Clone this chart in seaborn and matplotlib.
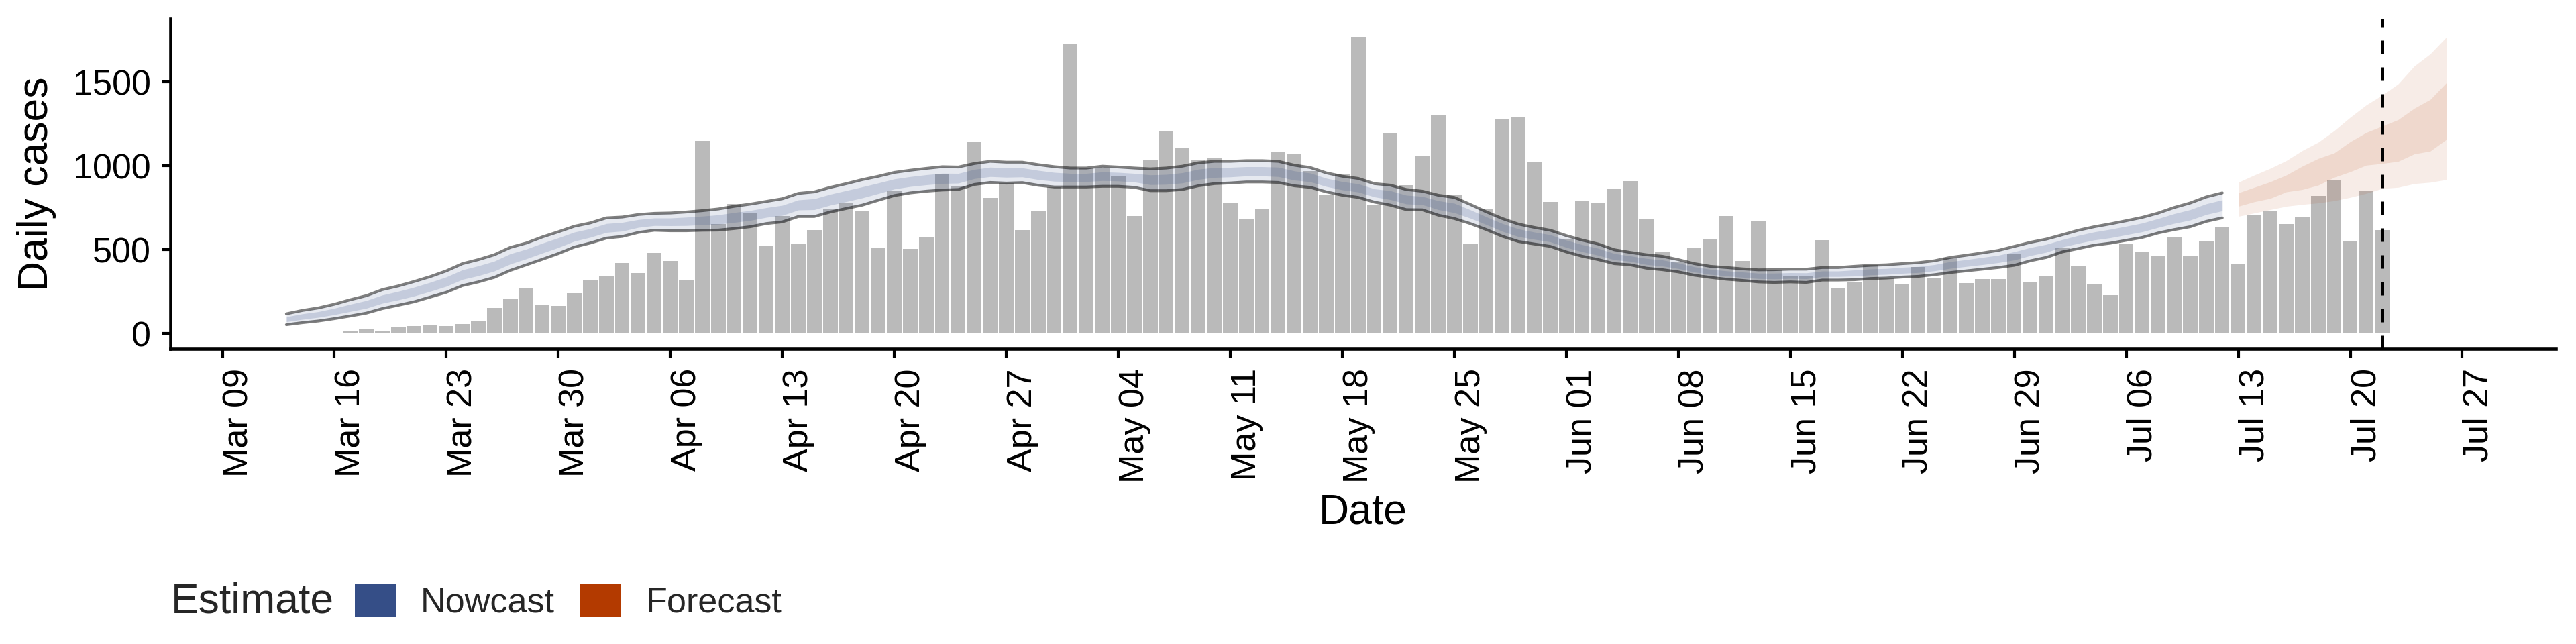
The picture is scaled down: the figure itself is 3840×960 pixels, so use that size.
import numpy as np
import pandas as pd
import matplotlib
matplotlib.use("Agg")
import matplotlib.pyplot as plt
import matplotlib.dates as mdates
from matplotlib.patches import Patch
import seaborn as sns

# ---------------- data ----------------
case_dates = pd.date_range("2020-03-13", "2020-07-22", freq="D")
cases = [
    4, 7, 3, 3, 15, 27, 19, 40, 44, 48, 44, 56, 72, 155, 207, 275, 175, 167, 243,
    318, 342, 422, 362, 480, 432, 321, 1149, 653, 773, 719, 524, 703, 532, 619,
    747, 783, 731, 508, 850, 504, 576, 955, 878, 1141, 810, 899, 619, 735, 875,
    1730, 986, 990, 938, 703, 1037, 1204, 1105, 1037, 1045, 783, 683, 747, 1085,
    1073, 970, 830, 954, 1771, 769, 1193, 886, 1063, 1300, 826, 532, 747, 1280,
    1288, 1021, 787,
    560, 791, 779, 866, 911, 687, 488, 424, 512, 564, 703, 434, 668, 383, 340,
    346, 556, 269, 305, 408, 335, 293, 398, 330, 455, 301, 325, 325, 472, 309,
    345, 508, 400, 297, 229, 536, 484, 464, 576, 460, 552, 639, 413, 707, 735,
    655, 699, 822, 918, 548, 850, 619,
]

nowcast_dates = pd.date_range("2020-03-13", "2020-07-12", freq="D")
nowcast_upper90 = [
    119, 139, 154, 176, 203, 227, 263, 285, 312, 341,
    375, 418, 442, 471, 515, 541, 577, 608, 641, 661,
    691, 696, 711, 718, 720, 726, 734, 744, 760, 773,
    789, 805, 837, 846, 873, 895, 919, 939, 962, 975,
    986, 996, 994, 1015, 1028, 1023, 1023, 1008, 996, 988,
    988, 999, 994, 988, 983, 988, 999, 1019, 1028, 1028,
    1032, 1032, 1028, 1005, 991, 959, 939, 926, 895, 886,
    860, 850, 826, 813, 771, 727, 687, 654, 634, 617,
    585, 558, 535, 501, 485, 471, 462, 442, 418, 402,
    395, 387, 381, 382, 385, 385, 395, 395, 402, 408,
    411, 418, 424, 435, 455, 468, 482, 497, 521, 545,
    564, 590, 617, 638, 655, 674, 694, 720, 753, 780,
    816, 840,
]
nowcast_lower90 = [
    54, 66, 76, 90, 106, 123, 150, 170, 191, 219,
    247, 287, 309, 336, 378, 411, 444, 478, 517, 541,
    570, 580, 604, 617, 614, 614, 617, 618, 627, 638,
    657, 667, 699, 699, 726, 747, 767, 796, 824, 840,
    850, 857, 860, 890, 902, 898, 901, 885, 875, 875,
    875, 879, 879, 873, 853, 853, 860, 882, 895, 899,
    905, 905, 902, 882, 873, 846, 826, 813, 785, 767,
    740, 739, 707, 687, 657, 621, 581, 550, 535, 521,
    488, 462, 442, 418, 411, 391, 382, 369, 349, 336,
    325, 318, 309, 306, 309, 306, 320, 320, 322, 329,
    332, 338, 342, 352, 365, 375, 385, 395, 408, 435,
    455, 488, 508, 528, 540, 557, 574, 601, 621, 638,
    670, 691,
]
nowcast_upper50 = [
    101, 119, 132, 152, 176, 198, 231, 253, 278, 307,
    339, 381, 405, 433, 477, 505, 540, 572, 606, 627,
    657, 664, 681, 690, 690, 695, 701, 709, 723, 735,
    752, 766, 798, 805, 832, 854, 876, 899, 923, 937,
    948, 957, 956, 980, 993, 988, 989, 974, 962, 956,
    956, 965, 962, 956, 947, 950, 960, 981, 991, 992,
    996, 996, 993, 971, 958, 927, 907, 894, 864, 853,
    826, 819, 793, 778, 739, 697, 657, 625, 606, 590,
    558, 531, 509, 478, 464, 449, 440, 422, 399, 384,
    375, 368, 361, 361, 364, 363, 374, 374, 380, 386,
    389, 396, 401, 412, 430, 442, 455, 468, 489, 514,
    533, 561, 586, 607, 623, 641, 660, 687, 716, 740,
    775, 798,
]
nowcast_lower50 = [
    72, 86, 98, 114, 133, 152, 182, 202, 225, 253,
    283, 324, 346, 374, 416, 447, 481, 514, 552, 575,
    604, 612, 634, 645, 644, 645, 650, 653, 664, 676,
    694, 706, 738, 740, 767, 788, 810, 836, 863, 878,
    888, 896, 898, 925, 937, 933, 935, 919, 909, 907,
    907, 913, 911, 905, 889, 891, 899, 920, 932, 935,
    941, 941, 937, 916, 906, 878, 858, 845, 816, 800,
    774, 770, 740, 722, 689, 651, 611, 579, 563, 548,
    515, 489, 468, 441, 432, 413, 404, 389, 368, 354,
    345, 337, 329, 327, 330, 328, 341, 341, 344, 351,
    354, 360, 365, 375, 390, 401, 412, 424, 440, 466,
    486, 517, 539, 559, 572, 590, 608, 634, 658, 678,
    711, 733,
]

forecast_dates = pd.date_range("2020-07-13", "2020-07-26", freq="D")
forecast_upper90 = [903, 946, 986, 1032, 1092, 1142, 1211, 1291, 1364, 1423, 1490, 1596, 1669, 1768]
forecast_upper50 = [840, 873, 906, 946, 999, 1045, 1078, 1145, 1200, 1238, 1277, 1344, 1397, 1496]
forecast_lower50 = [760, 787, 807, 846, 860, 886, 933, 966, 1005, 1015, 1028, 1072, 1089, 1158]
forecast_lower90 = [700, 720, 740, 760, 771, 780, 793, 813, 837, 866, 873, 895, 903, 919]

estimate_date = pd.Timestamp("2020-07-22")
tick_dates = pd.date_range("2020-03-09", "2020-07-27", freq="7D")
y_ticks = [0, 500, 1000, 1500]
legend_title = "Estimate"
legend_labels = ["Nowcast", "Forecast"]
x_title = "Date"
y_title = "Daily cases"

NOW_COL = "#354E87"
FORE_COL = "#B33A00"
BAR_COL = "#BABABA"

# ---------------- style ----------------
sns.set_theme(style="ticks")
plt.rcParams["font.family"] = ["Liberation Sans", "DejaVu Sans"]

W, H = 3840, 960
fig = plt.figure(figsize=(12.8, 3.2), dpi=300)
L, R, T, B = 254, 3810, 28, 520
ax = fig.add_axes([L / W, 1 - B / H, (R - L) / W, (B - T) / H])

# bars
df_cases = pd.DataFrame({"date": case_dates, "cases": cases})
sns.histplot(data=df_cases, x="date", weights="cases", discrete=True, shrink=0.9,
             color=BAR_COL, alpha=1, edgecolor="none", linewidth=0, ax=ax, zorder=1)

# nowcast ribbons
ax.fill_between(nowcast_dates, nowcast_lower90, nowcast_upper90, color=NOW_COL,
                alpha=0.12, lw=0, zorder=2)
ax.fill_between(nowcast_dates, nowcast_lower50, nowcast_upper50, color=NOW_COL,
                alpha=0.19, lw=0, zorder=2)
sns.lineplot(x=nowcast_dates, y=nowcast_upper90, color="black", alpha=0.5, lw=1.0,
             ax=ax, zorder=3)
sns.lineplot(x=nowcast_dates, y=nowcast_lower90, color="black", alpha=0.5, lw=1.0,
             ax=ax, zorder=3)

# forecast ribbons
ax.fill_between(forecast_dates, forecast_lower90, forecast_upper90, color=FORE_COL,
                alpha=0.095, lw=0, zorder=2)
ax.fill_between(forecast_dates, forecast_lower50, forecast_upper50, color=FORE_COL,
                alpha=0.11, lw=0, zorder=2)

# estimate date
ax.axvline(estimate_date, color="black", lw=1.2, linestyle=(0, (4, 4)), zorder=4)

# axes
x0 = pd.Timestamp("2020-03-09")
ax.set_xlim(x0 + pd.Timedelta(days=-3.25), x0 + pd.Timedelta(days=145.85))
ax.set_ylim(-90, 1878)
ax.set_xticks(tick_dates)
ax.xaxis.set_major_formatter(mdates.DateFormatter("%b %d"))
ax.set_yticks(y_ticks)
ax.tick_params(axis="both", which="major", length=3, width=1.0, color="black",
               labelsize=12.5, labelcolor="black", pad=4)
ax.tick_params(axis="x", labelrotation=90)
for lab in ax.get_xticklabels():
    lab.set_horizontalalignment("left")
for s in ["top", "right"]:
    ax.spines[s].set_visible(False)
for s in ["left", "bottom"]:
    ax.spines[s].set_color("black")
    ax.spines[s].set_linewidth(1.1)
ax.grid(False)

ax.set_xlabel(x_title, fontsize=15, color="black")
ax.set_ylabel(y_title, fontsize=15, color="black")
ax.xaxis.set_label_coords(0.5, (B - 764) / (B - T))
ax.xaxis.label.set_va("center")
ax.yaxis.set_label_coords((55 - L) / (R - L), 0.5)
ax.yaxis.label.set_va("center")

# legend
fig.text(255 / W, 1 - 897 / H, legend_title, fontsize=15, ha="left", va="center")
handles = [Patch(facecolor=NOW_COL, edgecolor="none", label=legend_labels[0]),
           Patch(facecolor=FORE_COL, edgecolor="none", label=legend_labels[1])]
fig.legend(handles=handles, loc="center left", bbox_to_anchor=(529 / W, 1 - 897 / H),
           ncol=2, frameon=False, fontsize=12.5, handlelength=1.17, handleheight=1.1,
           handletextpad=0.7, columnspacing=0.75, borderpad=0, borderaxespad=0)

fig.savefig("out.png", dpi=300, facecolor="white")
